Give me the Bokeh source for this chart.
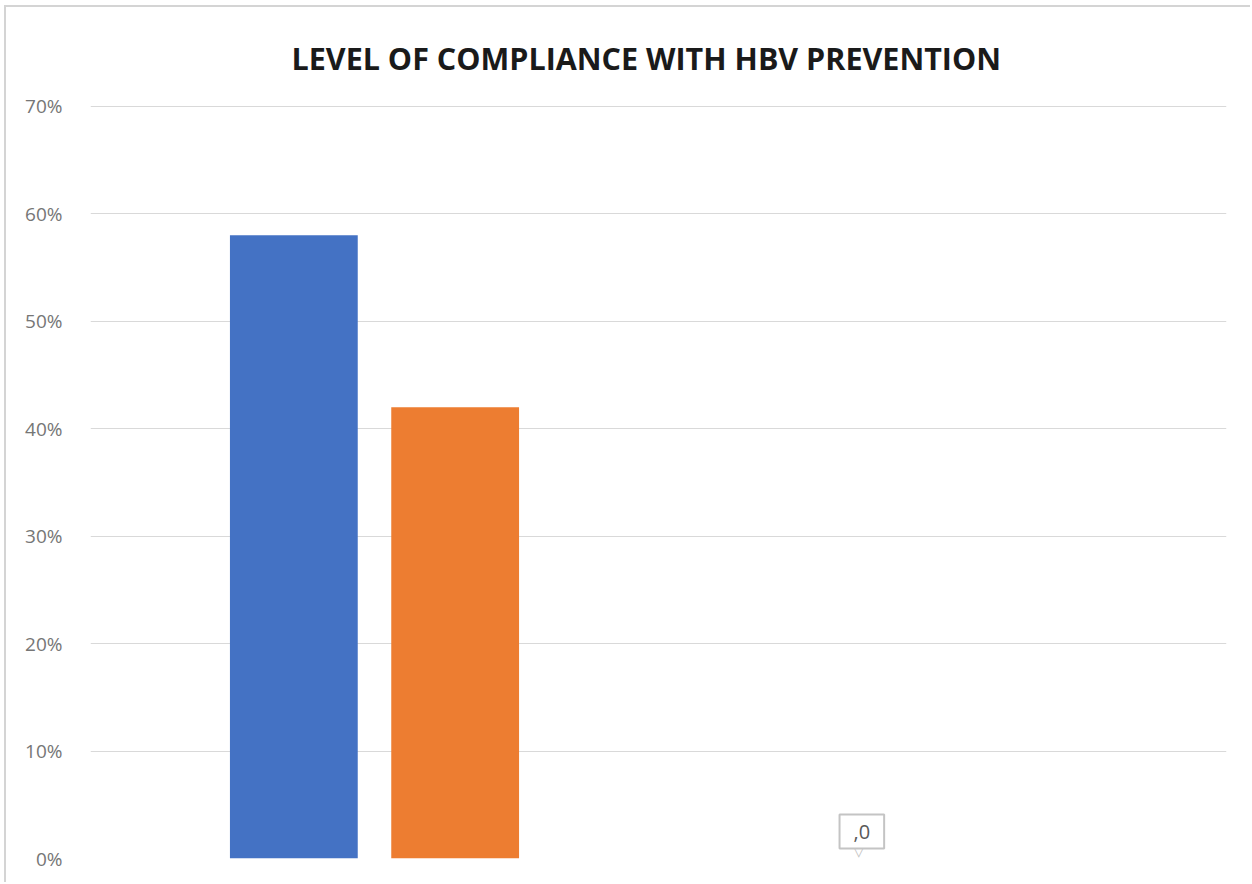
from bokeh.plotting import figure
from bokeh.models import FactorRange, Range1d, FixedTicker, NumeralTickFormatter, ColumnDataSource, Title
from bokeh.transform import dodge
from bokeh.core.properties import value
from bokeh.embed import file_html
from bokeh.resources import INLINE

categories = ["Group 1", "Group 2"]
series1 = [0.58, 0.0]
series2 = [0.42, 0.0]
y_ticks = [0.0, 0.1, 0.2, 0.3, 0.4, 0.5, 0.6, 0.7]
label_text = [",0"]
label_cat = ["Group 2"]
label_val = [0.0]
title_text = "LEVEL OF COMPLIANCE WITH HBV PREVENTION"

src = ColumnDataSource(dict(cat=categories, s1=series1, s2=series2))
lab = ColumnDataSource(dict(cat=label_cat, v=label_val, t=label_text, ptr=["\u25bd"] * len(label_text)))

p = figure(x_range=FactorRange(factors=categories, range_padding=0),
           y_range=Range1d(0, 0.7007),
           width=1246, height=877, output_backend="svg", toolbar_location=None,
           min_border_left=84, min_border_right=26, min_border_top=98, min_border_bottom=26)
p.margin = (5, 0, 0, 4)
p.styles = {"border-left": "2px solid #d4d4d4", "border-top": "2px solid #d4d4d4"}

t = Title(text=title_text, align="left",
          text_font="Open Sans", text_font_size="30.5px", text_font_style="bold",
          text_color="#1a1a1a", offset=201, standoff=53)
p.add_layout(t, "above")

p.vbar(x=dodge("cat", -0.142, range=p.x_range), top="s1", width=0.225, source=src,
       fill_color="#4472C4", line_color=None)
p.vbar(x=dodge("cat", 0.142, range=p.x_range), top="s2", width=0.225, source=src,
       fill_color="#ED7D31", line_color=None)

p.text(x=dodge("cat", -0.142, range=p.x_range), y="v", text="ptr", source=lab,
       text_font=value("DejaVu Sans"), text_font_size="15px", text_color="#c4c4c4",
       text_align="center", text_baseline="bottom", y_offset=1, x_offset=-3)
p.text(x=dodge("cat", -0.142, range=p.x_range), y="v", text="t", source=lab,
       text_font=value("Open Sans"), text_font_size="20px", text_color="#595959",
       text_align="center", text_baseline="bottom", y_offset=-10,
       border_line_color="#c4c4c4", border_line_width=2, background_fill_color="white",
       padding=(14, 10))

p.xaxis.visible = False
p.yaxis.ticker = FixedTicker(ticks=y_ticks)
p.yaxis.formatter = NumeralTickFormatter(format="0%")
p.yaxis.axis_line_color = None
p.yaxis.major_tick_line_color = None
p.yaxis.minor_tick_line_color = None
p.yaxis.major_label_text_font = "Open Sans"
p.yaxis.major_label_text_font_size = "19px"
p.yaxis.major_label_text_color = "#767676"
p.yaxis.major_label_standoff = 22
p.xgrid.grid_line_color = None
p.ygrid.grid_line_color = "#d9d9d9"
p.ygrid.grid_line_width = 1
p.outline_line_color = None

open("out.html", "w").write(file_html(p, INLINE))
